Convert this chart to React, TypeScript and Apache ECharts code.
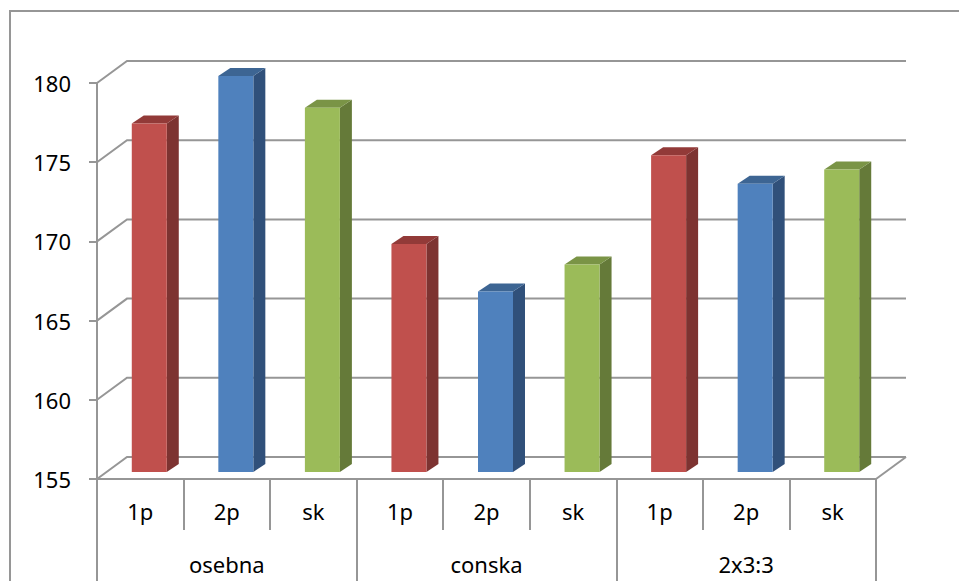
import React, { useEffect, useRef } from "react";
import * as echarts from "echarts";

const groups = ["osebna", "conska", "2x3:3"];
const categories = ["1p", "2p", "sk", "1p", "2p", "sk", "1p", "2p", "sk"];
const heights = [177, 180, 178, 169.4, 166.4, 168.1, 175, 173.2, 174.1];
const yTicks = [155, 160, 165, 170, 175, 180];

const faces = [
  { front: "#C0504D", side: "#7D3331", top: "#923A38" },
  { front: "#4F81BD", side: "#30507A", top: "#3D6593" },
  { front: "#9BBB59", side: "#657A39", top: "#7A9446" },
];

const LINE = "#969696";
const FONT = "'Noto Sans', sans-serif";

// Oblique projection: how far the back wall and the bars sit behind the front plane.
const WALL_DX = 30;
const WALL_DY = 22;
const BAR_DX = 9;
const BAR_DY = 7;
const BAR_W = 35;
const BAR_DEPTH_X = 12;
const BAR_DEPTH_Y = 8;

function renderWall(params: any, api: any) {
  const value = api.value(0);
  const { x, width } = params.coordSys;
  const y = api.coord([0, value])[1];
  const right = x + width;
  const children: any[] = [
    {
      type: "polyline",
      shape: {
        points: [
          [x, y],
          [x + WALL_DX, y - WALL_DY],
          [right + WALL_DX, y - WALL_DY],
        ],
      },
      style: { stroke: LINE, lineWidth: 2, fill: "none" },
    },
  ];
  if (value === yTicks[0]) {
    children.push({
      type: "line",
      shape: { x1: right, y1: y, x2: right + WALL_DX, y2: y - WALL_DY },
      style: { stroke: LINE, lineWidth: 2 },
    });
  }
  return { type: "group", children };
}

function renderBar(params: any, api: any) {
  const idx = api.value(0);
  const [cx, yTop] = api.coord([idx, api.value(1)]);
  const [, yBase] = api.coord([idx, yTicks[0]]);
  const l = cx + BAR_DX - BAR_W / 2;
  const r = l + BAR_W;
  const t = yTop - BAR_DY;
  const b = yBase - BAR_DY;
  const c = faces[idx % 3];
  return {
    type: "group",
    children: [
      {
        type: "polygon",
        shape: {
          points: [
            [r, t],
            [r + BAR_DEPTH_X, t - BAR_DEPTH_Y],
            [r + BAR_DEPTH_X, b - BAR_DEPTH_Y],
            [r, b],
          ],
        },
        style: { fill: c.side },
      },
      {
        type: "polygon",
        shape: {
          points: [
            [l, t],
            [l + BAR_DEPTH_X, t - BAR_DEPTH_Y],
            [r + BAR_DEPTH_X, t - BAR_DEPTH_Y],
            [r, t],
          ],
        },
        style: { fill: c.top },
      },
      {
        type: "rect",
        shape: { x: l, y: t, width: BAR_W, height: b - t },
        style: { fill: c.front },
      },
    ],
  };
}

export default function App() {
  const ref = useRef<HTMLDivElement>(null);

  useEffect(() => {
    const chart = echarts.init(ref.current!, undefined, { renderer: "svg" });
    const axisLine = { show: true, lineStyle: { color: LINE, width: 2 } };
    chart.setOption({
      animation: false,
      backgroundColor: "#ffffff",
      textStyle: { fontFamily: FONT },
      grid: { left: 97, right: 83, top: 83, bottom: 102 },
      xAxis: [
        {
          type: "category",
          data: categories,
          position: "bottom",
          axisLine,
          axisTick: { show: true, length: 51, alignWithLabel: false, lineStyle: { color: LINE, width: 2 } },
          axisLabel: { margin: 21, fontSize: 22, color: "#000", fontFamily: FONT, interval: 0 },
          splitLine: { show: false },
        },
        {
          type: "category",
          data: groups,
          position: "bottom",
          axisLine,
          axisTick: { show: true, length: 102, lineStyle: { color: LINE, width: 2 } },
          axisLabel: { margin: 74, fontSize: 22, color: "#000", fontFamily: FONT, interval: 0 },
          splitLine: { show: false },
        },
      ],
      yAxis: {
        type: "value",
        min: 155,
        max: 180,
        interval: 5,
        axisLine,
        axisTick: { show: true, length: 8, lineStyle: { color: LINE, width: 2 } },
        axisLabel: { margin: 26, fontSize: 22, color: "#000", fontFamily: FONT },
        splitLine: { show: false },
      },
      graphic: [
        {
          type: "polyline",
          silent: true,
          shape: {
            points: [
              [10, 600],
              [10, 11],
              [970, 11],
            ],
          },
          style: { stroke: LINE, lineWidth: 2, fill: "none" },
        },
      ],
      series: [
        {
          type: "custom",
          renderItem: renderWall,
          data: yTicks.map((v) => [v]),
          encode: { y: 0 },
          silent: true,
          z: 1,
        },
        {
          type: "custom",
          renderItem: renderBar,
          data: heights.map((v, i) => [i, v]),
          encode: { x: 0, y: 1 },
          silent: true,
          z: 2,
        },
      ],
    });
    return () => chart.dispose();
  }, []);

  return (
    <div
      ref={ref}
      style={{ position: "fixed", left: 0, top: 0, width: 959, height: 581 }}
    />
  );
}
